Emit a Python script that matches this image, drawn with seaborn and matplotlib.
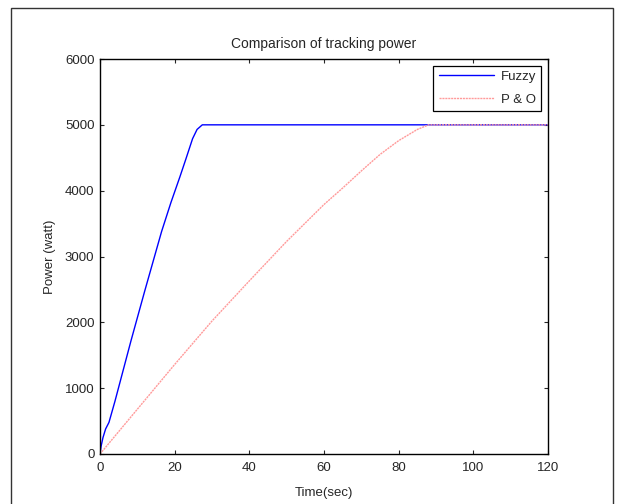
"""Comparison of tracking power: Fuzzy vs P&O MPPT."""

import numpy as np
import pandas as pd
import matplotlib
matplotlib.use("Agg")
import matplotlib.pyplot as plt
import seaborn as sns
from matplotlib.patches import Rectangle

# data
fuzzy_time = [0, 0.3, 0.8, 1.5, 2.4, 4, 8.3, 12, 16.5, 19, 21.4, 23, 24.8, 26, 27.4, 120]
fuzzy_power = [0, 120, 250, 380, 480, 800, 1720, 2480, 3380, 3820, 4210, 4480, 4790, 4930, 5000, 5000]

po_time = [0, 10, 20, 30, 40, 50, 60, 65, 70, 75, 80, 85, 88, 120]
po_power = [0, 680, 1360, 2020, 2630, 3230, 3790, 4040, 4300, 4550, 4760, 4930, 5000, 5000]

series_names = ["Fuzzy", "P & O"]
x_ticks = [0, 20, 40, 60, 80, 100, 120]
y_ticks = [0, 1000, 2000, 3000, 4000, 5000, 6000]

df = pd.concat([
    pd.DataFrame({"time": fuzzy_time, "power": fuzzy_power, "method": series_names[0]}),
    pd.DataFrame({"time": po_time, "power": po_power, "method": series_names[1]}),
])

sns.set_style("ticks")
plt.rcParams["font.family"] = ["Liberation Sans", "DejaVu Sans"]
plt.rcParams["xtick.direction"] = "in"
plt.rcParams["ytick.direction"] = "in"

fig = plt.figure(figsize=(6.17, 5.04), dpi=100)
ax = fig.add_axes([100 / 617, 1 - 454 / 504, 448 / 617, 395 / 504])

sns.lineplot(data=df, x="time", y="power", hue="method", style="method",
             palette={"Fuzzy": "#0000ff", "P & O": "#ff9a9a"},
             dashes={"Fuzzy": "", "P & O": (1.5, 0.6)},
             linewidth=1.0, sort=False, ax=ax)

ax.set_xlim(0, 120)
ax.set_ylim(0, 6000)
ax.set_xticks(x_ticks)
ax.set_yticks(y_ticks)
ax.tick_params(labelsize=9.5, length=3, width=0.8, top=True, right=True, pad=4)
ax.tick_params(axis="x", pad=6)
for s in ax.spines.values():
    s.set_linewidth(1.0)
    s.set_color("black")

ax.set_title("Comparison of tracking power", fontsize=10, pad=8)
ax.set_xlabel("Time(sec)", fontsize=9.5, labelpad=9)
ax.set_ylabel("Power (watt)", fontsize=9.5, labelpad=6)

leg = ax.legend(title=None, loc="upper right", fontsize=9.5, frameon=True,
                fancybox=False, edgecolor="black", framealpha=1,
                borderaxespad=0.5, handlelength=4.2, handletextpad=0.5,
                labelspacing=0.8, borderpad=0.4)
leg.get_frame().set_linewidth(0.9)

# outer frame of the figure
fig.patches.append(Rectangle((11 / 617, -0.05), 602 / 617, 1.05 - 8 / 504,
                             transform=fig.transFigure, fill=False,
                             edgecolor="#333333", linewidth=1.0))

fig.savefig("out.png", dpi=100)
